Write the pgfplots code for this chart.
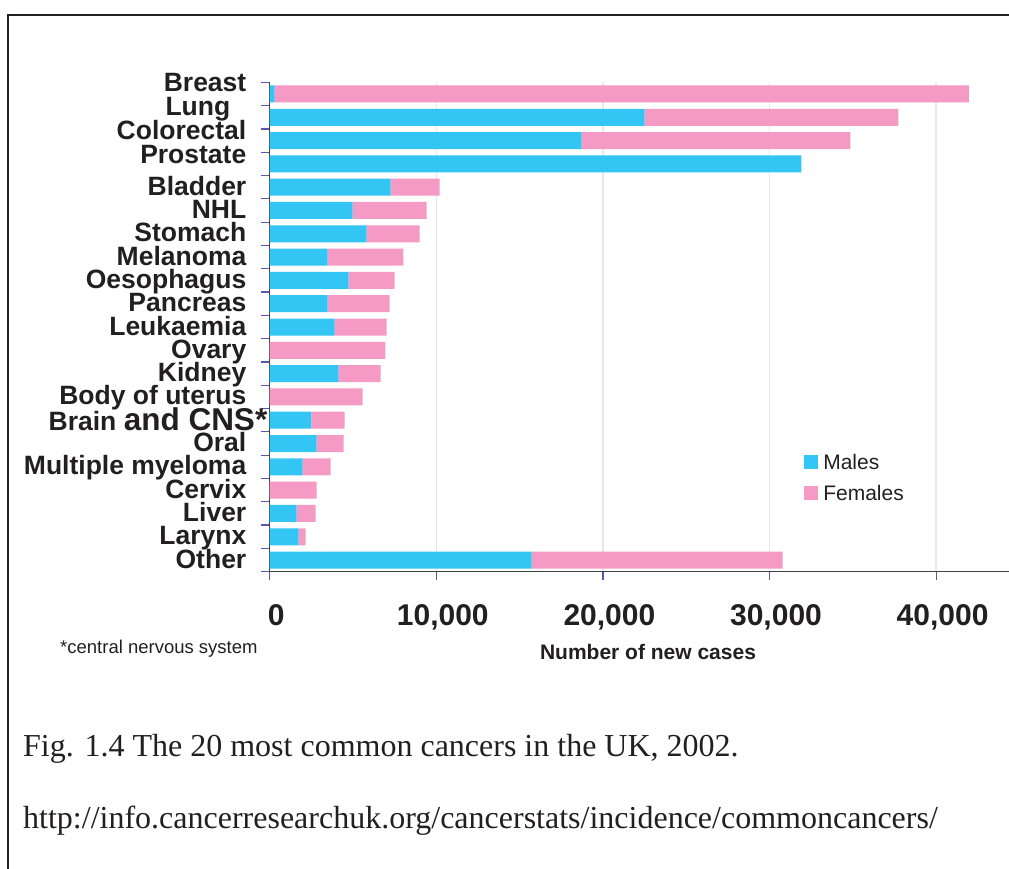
\documentclass[border=0pt]{standalone}
\usepackage{fontspec}
\setmainfont{Liberation Serif}
\newfontfamily\arial{Liberation Sans}
\usepackage{pgfplots}
\usepackage{pgfplotstable}
\pgfplotsset{compat=1.18}

\definecolor{males}{RGB}{51,197,243}
\definecolor{females}{RGB}{244,154,196}
\definecolor{tickblue}{RGB}{88,88,172}
\definecolor{gridgray}{RGB}{232,232,232}
\definecolor{ink}{RGB}{35,31,32}

% New cases, UK 2002; y = 20 is the top row (Breast), y = 0 the bottom row (Other)
\pgfplotstableread{
y  male   female
20 300    41660
19 22500  15240
18 18720  16140
17 31920  0
16 7260   2940
15 4980   4440
14 5820   3180
13 3480   4540
12 4740   2760
11 3480   3720
10 3900   3120
9  0      6940
8  4140   2520
7  0      5580
6  2500   2000
5  2820   1620
4  1980   1680
3  0      2820
2  1620   1140
1  1740   420
0  15720  15060
}\cancers

\begin{document}
\begin{tikzpicture}
\begin{axis}[
  at={(269.7bp,-571.7bp)}, anchor=south west,
  scale only axis, width=739.7bp, height=489.4bp,
  xmin=0, xmax=44400, ymin=-0.5, ymax=20.5,
  xbar stacked, bar width=17bp,
  axis x line*=bottom, axis y line*=left,
  axis line style={draw=ink!85, line width=1.2bp, -},
  tick align=outside, major tick length=8.5bp,
  tick style={draw=tickblue, line width=1.2bp},
  scaled x ticks=false,
  xtick={0,10000,20000,30000,40000},
  xticklabels={0\hspace{11bp},{10,000},{20,000},{30,000},{40,000}},
  xticklabel style={font=\arial\bfseries\fontsize{30bp}{30bp}\selectfont, text=ink,
    anchor=base, inner sep=0pt, yshift=-45bp, xshift=6.5bp},
  ytick={-0.5,0.5,...,20.5}, yticklabels={},
  extra y ticks={0,1,...,20},
  extra y tick labels={Other, Larynx, Liver, Cervix, Multiple myeloma, Oral,
    \raisebox{-2bp}{Brain {\fontsize{31.5bp}{31.5bp}\selectfont and CNS*}\kern-21bp},
    Body of uterus, Kidney, Ovary, Leukaemia, Pancreas, Oesophagus, Melanoma,
    Stomach, NHL, Bladder, \raisebox{8bp}{Prostate}, \raisebox{9bp}{Colorectal},
    \raisebox{9.8bp}{Lung\kern16bp}, \raisebox{10.5bp}{Breast}},
  extra y tick style={major tick length=0pt, grid=none},
  yticklabel style={font=\arial\bfseries\fontsize{26.5bp}{26.5bp}\selectfont, text=ink,
    anchor=base east, inner sep=0pt, xshift=-23.2bp, yshift=-8bp},
  xmajorgrids, major grid style={draw=gridgray, line width=1.5bp},
  legend style={draw=none, fill=none, inner sep=0pt,
    at={(axis cs:32075,4.55)}, anchor=north west,
    font=\arial\fontsize{21bp}{21bp}\selectfont, text=ink,
    row sep=14.6bp, nodes={inner sep=0pt},
    /tikz/every odd column/.append style={column sep=5bp}},
  legend cell align=left,
]
\addplot+[fill=males, draw=none,
  legend image code/.code={\fill (0bp,-6bp) rectangle (14bp,8bp);}]
  table[x=male, y=y]{\cancers};
\addlegendentry{Males}
\addplot+[fill=females, draw=none,
  legend image code/.code={\fill (0bp,-6bp) rectangle (14bp,8bp);}]
  table[x=female, y=y]{\cancers};
\addlegendentry{Females}
\end{axis}

\node[anchor=base, inner sep=0pt, text=ink,
  font=\arial\bfseries\fontsize{21bp}{21bp}\selectfont] at (648bp,-659.3bp) {Number of new cases};
\node[anchor=base west, inner sep=0pt, text=ink,
  font=\arial\fontsize{18.5bp}{18.5bp}\selectfont] at (60bp,-653.3bp) {*central nervous system};
\node[anchor=base west, inner sep=0pt, text=ink,
  font=\fontsize{32bp}{32bp}\selectfont] at (23bp,-756.7bp) {Fig. 1.4 The 20 most common cancers in the UK, 2002.};
\node[anchor=base west, inner sep=0pt, text=ink,
  font=\fontsize{32bp}{32bp}\selectfont] at (23bp,-828bp) {http://info.cancerresearchuk.org/cancerstats/incidence/commoncancers/};

% page frame
\draw[ink, line width=2bp] (8.2bp,-1000bp) -- (8.2bp,-15bp) -- (1100bp,-15bp);

\pgfresetboundingbox
\useasboundingbox (0bp,0bp) rectangle (1009bp,-869bp);
\end{tikzpicture}
\end{document}
